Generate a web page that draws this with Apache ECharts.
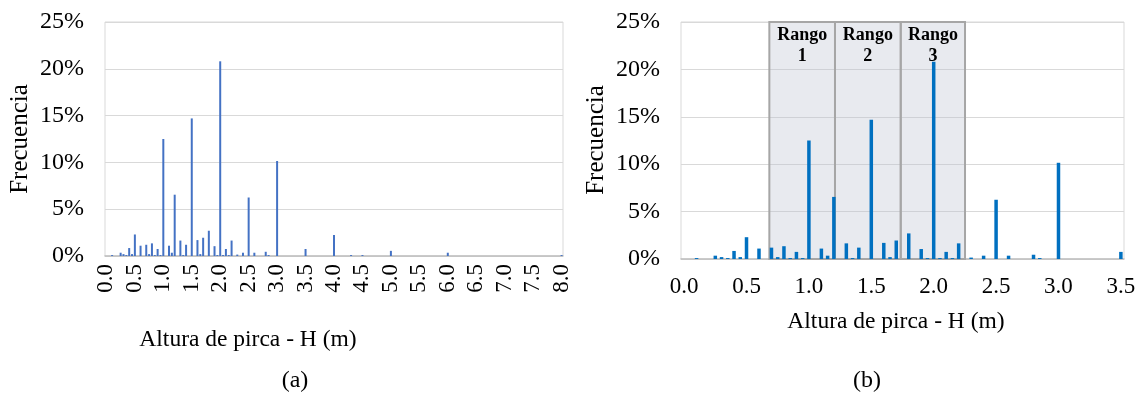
<!DOCTYPE html>
<html>
<head>
<meta charset="utf-8">
<script src="https://cdn.jsdelivr.net/npm/echarts@6/dist/echarts.min.js"></script>
<style>
  html, body { margin: 0; padding: 0; background: #fff; }
  #container { width: 1145px; height: 394px; }
</style>
</head>
<body>
<div id="container"></div>
<script>
// alturas de pirca (m) con frecuencia no nula, y su frecuencia (%)
const heights = [0.10, 0.25, 0.30, 0.35, 0.40, 0.45, 0.50, 0.60, 0.70, 0.75, 0.80, 0.85, 0.90, 0.95,
  1.00, 1.10, 1.15, 1.20, 1.30, 1.35, 1.40, 1.50, 1.60, 1.65, 1.70, 1.80, 1.90, 1.95,
  2.00, 2.05, 2.10, 2.15, 2.20, 2.30, 2.40, 2.50, 2.60, 2.80, 2.85, 3.00, 3.50,
  4.00, 4.30, 4.50, 5.00, 6.00, 8.00];
const freqs = [0.1, 0.35, 0.2, 0.1, 0.85, 0.2, 2.3, 1.1, 1.2, 0.2, 1.35, 0.1, 0.75, 0.1,
  12.5, 1.1, 0.35, 6.55, 1.65, 0.1, 1.2, 14.7, 1.7, 0.2, 1.95, 2.7, 1.05, 0.1,
  20.8, 0.1, 0.75, 0.1, 1.65, 0.15, 0.35, 6.25, 0.35, 0.45, 0.1, 10.15, 0.75,
  2.25, 0.1, 0.1, 0.55, 0.35, 0.1];

// rangos marcados en (b): [inicio, fin, etiqueta]
const rangeStart = [0.683, 1.209, 1.736];
const rangeEnd = [1.209, 1.736, 2.251];
const rangeNames = ['Rango\n1', 'Rango\n2', 'Rango\n3'];

const yTicks = [0, 5, 10, 15, 20, 25];

const step = 0.05;
function bins(maxH) {
  const cats = [];
  const vals = [];
  const n = Math.round(maxH / step);
  for (let i = 0; i <= n; i++) {
    cats.push((i * step).toFixed(1));
    vals.push(0);
  }
  heights.forEach((h, k) => {
    const idx = Math.round(h / step);
    if (idx <= n) vals[idx] = freqs[k];
  });
  return { cats, vals };
}

const binsA = bins(8);
const binsB = bins(3.5);

const font = '"Liberation Serif", "Times New Roman", serif';

const chartDom = document.getElementById('container');
const myChart = echarts.init(chartDom);

const yAxisBase = {
  type: 'value',
  min: yTicks[0],
  max: yTicks[yTicks.length - 1],
  interval: 5,
  axisLine: { show: false },
  axisTick: { show: false },
  axisLabel: {
    formatter: '{value}%',
    color: '#000',
    fontFamily: font,
    fontSize: 24,
    margin: 21,
  },
  splitLine: { lineStyle: { color: '#D9D9D9', width: 1 } },
};

const option = {
  backgroundColor: '#fff',
  animation: false,
  grid: [
    { left: 105, top: 22, width: 458, height: 234, show: true, borderColor: '#D9D9D9', borderWidth: 1 },
    { left: 681, top: 22, width: 443, height: 237, show: true, borderColor: '#D9D9D9', borderWidth: 1 },
  ],
  xAxis: [
    {
      type: 'category',
      gridIndex: 0,
      data: binsA.cats,
      axisLine: { lineStyle: { color: '#BFBFBF', width: 1.5 } },
      axisTick: { show: false },
      axisLabel: {
        interval: 9,
        rotate: 90,
        color: '#000',
        fontFamily: font,
        fontSize: 23,
        margin: 8,
      },
    },
    {
      type: 'category',
      gridIndex: 1,
      data: binsB.cats,
      axisLine: { lineStyle: { color: '#BFBFBF', width: 1.5 } },
      axisTick: { show: false },
      axisLabel: {
        interval: 9,
        color: '#000',
        fontFamily: font,
        fontSize: 23,
        margin: 16,
      },
    },
    {
      // eje auxiliar para ubicar los rangos en metros
      type: 'value',
      gridIndex: 1,
      min: -0.025,
      max: 3.525,
      show: false,
    },
  ],
  yAxis: [
    Object.assign({ gridIndex: 0 }, yAxisBase),
    Object.assign({ gridIndex: 1 }, yAxisBase),
  ],
  series: [
    {
      name: 'Frecuencia (a)',
      type: 'bar',
      xAxisIndex: 0,
      yAxisIndex: 0,
      data: binsA.vals,
      barWidth: 2,
      itemStyle: { color: '#4472C4' },
      z: 3,
    },
    {
      name: 'Rangos',
      type: 'bar',
      xAxisIndex: 2,
      yAxisIndex: 1,
      data: [],
      z: 1,
      markArea: {
        silent: true,
        itemStyle: {
          color: 'rgba(190, 194, 210, 0.35)',
          borderColor: '#A6A6A6',
          borderWidth: 2,
        },
        label: {
          show: true,
          position: 'insideTop',
          distance: 4,
          color: '#000',
          fontFamily: font,
          fontWeight: 'bold',
          fontSize: 18,
          lineHeight: 21,
        },
        data: rangeStart.map((s, i) => [
          { xAxis: s, yAxis: 25, name: rangeNames[i] },
          { xAxis: rangeEnd[i], yAxis: 0 },
        ]),
      },
    },
    {
      name: 'Frecuencia (b)',
      type: 'bar',
      xAxisIndex: 1,
      yAxisIndex: 1,
      data: binsB.vals,
      barWidth: 3.5,
      itemStyle: { color: '#0070C0' },
      z: 3,
    },
  ],
  graphic: [
    { type: 'text', x: 20, y: 139, rotation: Math.PI / 2, style: { text: 'Frecuencia', font: '25px ' + font, fill: '#000', align: 'center', verticalAlign: 'middle' } },
    { type: 'text', x: 596, y: 140, rotation: Math.PI / 2, style: { text: 'Frecuencia', font: '25px ' + font, fill: '#000', align: 'center', verticalAlign: 'middle' } },
    { type: 'text', x: 248, y: 340, style: { text: 'Altura de pirca - H (m)', font: '23.5px ' + font, fill: '#000', align: 'center', verticalAlign: 'middle' } },
    { type: 'text', x: 896, y: 322, style: { text: 'Altura de pirca - H (m)', font: '23.5px ' + font, fill: '#000', align: 'center', verticalAlign: 'middle' } },
    { type: 'text', x: 295, y: 381, style: { text: '(a)', font: '24px ' + font, fill: '#000', align: 'center', verticalAlign: 'middle' } },
    { type: 'text', x: 867, y: 381, style: { text: '(b)', font: '24px ' + font, fill: '#000', align: 'center', verticalAlign: 'middle' } },
  ],
};

myChart.setOption(option);
</script>
</body>
</html>
